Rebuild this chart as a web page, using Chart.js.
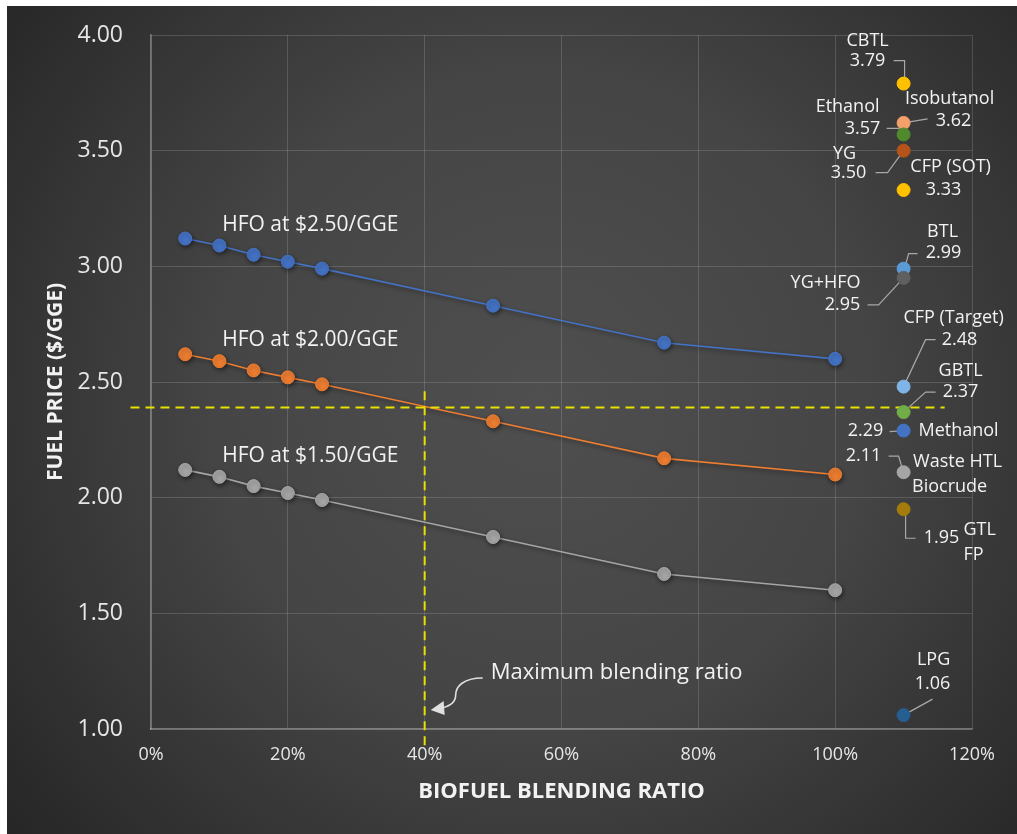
<!DOCTYPE html>
<html>
<head>
<meta charset="utf-8">
<title>Fuel price vs biofuel blending ratio</title>
<script src="https://cdn.jsdelivr.net/npm/chart.js@4.4.1/dist/chart.umd.min.js"></script>
<style>
    html, body { margin: 0; padding: 0; background: #ffffff; }
    #wrap { width: 1017px; height: 834px; }
</style>
</head>
<body>
<div id="wrap"><canvas id="priceChart" width="1017" height="834"></canvas></div>
<script>
// HFO blends: fuel price at each blending ratio
const blendRatio = [5, 10, 15, 20, 25, 50, 75, 100];
const hfo250 = [3.12, 3.09, 3.05, 3.02, 2.99, 2.83, 2.67, 2.60];
const hfo200 = [2.62, 2.59, 2.55, 2.52, 2.49, 2.33, 2.17, 2.10];
const hfo150 = [2.12, 2.09, 2.05, 2.02, 1.99, 1.83, 1.67, 1.60];
const hfoLabels = ['HFO at $2.50/GGE', 'HFO at $2.00/GGE', 'HFO at $1.50/GGE'];

// Neat biofuels, all plotted in one column right of 100%
const biofuelBlend = 110;
const biofuelNames = ['CBTL', 'Isobutanol', 'Ethanol', 'YG', 'CFP (SOT)', 'BTL', 'YG+HFO',
    'CFP (Target)', 'GBTL', 'Methanol', 'Waste HTL\nBiocrude', 'GTL\nFP', 'LPG'];
const biofuelPrices = [3.79, 3.62, 3.57, 3.50, 3.33, 2.99, 2.95, 2.48, 2.37, 2.29, 2.11, 1.95, 1.06];

// Reference lines
const targetPrice = 2.39;
const targetSpan = [-3, 116];
const maxBlend = 40;
const maxBlendSpan = [0.93, 2.47];

const xTickValues = [0, 20, 40, 60, 80, 100, 120];
const yTickValues = [1.0, 1.5, 2.0, 2.5, 3.0, 3.5, 4.0];

const biofuelColors = ['#ffc000', '#f4a06b', '#4f8a2c', '#b5531a', '#ffc000', '#5b9bd5', '#5f5f5f',
    '#7fb4e6', '#70ad47', '#4472c4', '#a5a5a5', '#a37c0c', '#255e91'];

const FONT = '"Open Sans", "Noto Sans", sans-serif';
const TEXT = '#f2f2f2';

// label offsets (px) from each biofuel point: name lines, value, leader polyline
const labelLayout = {
    'CBTL':        { name: [[-36, -43]], value: [-36, -23], leader: [[-10, -23], [1, -23], [1, 0]] },
    'Isobutanol':  { name: [[46, -24]], value: [50, -2], leader: [[0, 0], [24, -4]] },
    'Ethanol':     { name: [[-56, -28]], value: [-41, -6], leader: [[-17, -6], [-5, -6], [0, 0]] },
    'YG':          { name: [[-59, 3]], value: [-55, 22], leader: [[-28, 22], [-16, 22], [0, 0]] },
    'CFP (SOT)':   { name: [[47, -23]], value: [40, 0], leader: null },
    'BTL':         { name: [[39, -37]], value: [40, -16], leader: [[14, -15], [5, -15], [1, 0]] },
    'YG+HFO':      { name: [[-78, 5]], value: [-61, 27], leader: [[-36, 27], [-25, 27], [0, 0]] },
    'CFP (Target)': { name: [[50, -69]], value: [56, -47], leader: [[32, -47], [22, -47], [0, 0]] },
    'GBTL':        { name: [[57, -41]], value: [57, -20], leader: [[32, -20], [22, -20], [0, 0]] },
    'Methanol':    { name: [[55, 0]], value: [-38, 0], leader: [[-14, 1], [0, 0]] },
    'Waste HTL\nBiocrude': { name: [[54, -10], [46, 15]], value: [-40, -16], leader: [[-15, -16], [-5, -16], [0, 0]] },
    'GTL\nFP':     { name: [[76, 21], [70, 46]], value: [38, 29], leader: [[2, 0], [2, 29], [12, 29]] },
    'LPG':         { name: [[30, -55]], value: [29, -31], leader: [[29, -16], [0, 0]] }
};

function toPoints(xs, ys) {
    return xs.map((x, i) => ({ x: x, y: ys[i] }));
}

function lineDataset(label, values, color) {
    return {
        label: label,
        data: toPoints(blendRatio, values),
        showLine: true,
        borderColor: color,
        backgroundColor: color,
        borderWidth: 1.6,
        pointRadius: 6.5,
        pointBorderWidth: 1,
        pointBorderColor: color,
        pointBackgroundColor: color,
        order: 3
    };
}

function dashedDataset(points) {
    return {
        label: 'ref',
        data: points,
        showLine: true,
        borderColor: '#e8e000',
        borderWidth: 2,
        borderDash: [9, 6],
        pointRadius: 0,
        clip: false,
        order: 2
    };
}

const chartBackground = {
    id: 'chartBackground',
    beforeDraw(chart) {
        const ctx = chart.ctx;
        const w = chart.width, h = chart.height;
        ctx.save();
        ctx.fillStyle = '#ffffff';
        ctx.fillRect(0, 0, w, h);
        const g = ctx.createRadialGradient(540, 400, 0, 540, 400, 720);
        g.addColorStop(0, '#4f4f4f');
        g.addColorStop(0.45, '#454545');
        g.addColorStop(1, '#232323');
        ctx.fillStyle = g;
        ctx.fillRect(7, 6, w - 7, h - 6);
        ctx.restore();
    }
};

// soft drop shadow under lines and markers
const markerShadow = {
    id: 'markerShadow',
    beforeDatasetDraw(chart, args) {
        const ctx = chart.ctx;
        ctx.save();
        if (args.meta.dataset && args.meta.data.length && chart.data.datasets[args.index].pointRadius !== 0) {
            ctx.shadowColor = 'rgba(0,0,0,0.45)';
            ctx.shadowBlur = 4;
            ctx.shadowOffsetX = 1;
            ctx.shadowOffsetY = 2;
        }
    },
    afterDatasetDraw(chart) {
        chart.ctx.restore();
    }
};

const annotations = {
    id: 'annotations',
    beforeDatasetsDraw(chart) {
        // leader lines sit beneath the markers
        const ctx = chart.ctx;
        const xs = chart.scales.x, ys = chart.scales.y;
        ctx.save();
        ctx.strokeStyle = '#a8a8a8';
        ctx.lineWidth = 1.2;
        biofuelNames.forEach((name, i) => {
            const lay = labelLayout[name];
            if (!lay || !lay.leader) return;
            const px = xs.getPixelForValue(biofuelBlend);
            const py = ys.getPixelForValue(biofuelPrices[i]);
            ctx.beginPath();
            lay.leader.forEach((p, k) => {
                if (k === 0) ctx.moveTo(px + p[0], py + p[1]);
                else ctx.lineTo(px + p[0], py + p[1]);
            });
            ctx.stroke();
        });
        ctx.restore();
    },
    afterDatasetsDraw(chart) {
        const ctx = chart.ctx;
        const xs = chart.scales.x, ys = chart.scales.y;
        ctx.save();
        ctx.fillStyle = TEXT;
        ctx.textBaseline = 'middle';

        // series names above the HFO lines
        ctx.font = '21px ' + FONT;
        ctx.textAlign = 'left';
        [hfo250, hfo200, hfo150].forEach((vals, i) => {
            const x0 = xs.getPixelForValue(blendRatio[0]);
            const y0 = ys.getPixelForValue(vals[0]);
            ctx.fillText(hfoLabels[i], x0 + 37, y0 - 14);
        });

        // biofuel names and prices
        ctx.font = '18px ' + FONT;
        ctx.textAlign = 'center';
        biofuelNames.forEach((name, i) => {
            const lay = labelLayout[name];
            const px = xs.getPixelForValue(biofuelBlend);
            const py = ys.getPixelForValue(biofuelPrices[i]);
            name.split('\n').forEach((line, k) => {
                const off = lay.name[k];
                ctx.fillText(line, px + off[0], py + off[1]);
            });
            ctx.fillText(biofuelPrices[i].toFixed(2), px + lay.value[0], py + lay.value[1]);
        });

        // "Maximum blending ratio" callout with curved arrow
        const bx = xs.getPixelForValue(maxBlend);
        const by = ys.getPixelForValue(yTickValues[0]);
        ctx.font = '22px ' + FONT;
        ctx.textAlign = 'left';
        ctx.fillText('Maximum blending ratio', bx + 66, by - 56);

        ctx.strokeStyle = '#e0e0e0';
        ctx.fillStyle = '#e0e0e0';
        ctx.lineWidth = 1.6;
        ctx.beginPath();
        ctx.moveTo(bx + 58, by - 51);
        ctx.bezierCurveTo(bx + 38, by - 51, bx + 31, by - 42, bx + 31, by - 34);
        ctx.bezierCurveTo(bx + 31, by - 27, bx + 26, by - 23, bx + 17, by - 21);
        ctx.stroke();
        ctx.beginPath();
        ctx.moveTo(bx + 6, by - 19);
        ctx.lineTo(bx + 19, by - 28);
        ctx.lineTo(bx + 20, by - 14);
        ctx.closePath();
        ctx.fill();
        ctx.restore();
    }
};

const ctx = document.getElementById('priceChart').getContext('2d');
const priceChart = new Chart(ctx, {
    type: 'scatter',
    data: {
        datasets: [
            {
                label: 'Biofuels',
                data: biofuelPrices.map(p => ({ x: biofuelBlend, y: p })),
                pointRadius: 6.5,
                pointBorderWidth: 1,
                pointBackgroundColor: biofuelColors,
                pointBorderColor: biofuelColors,
                order: 1
            },
            dashedDataset([{ x: targetSpan[0], y: targetPrice }, { x: targetSpan[1], y: targetPrice }]),
            dashedDataset([{ x: maxBlend, y: maxBlendSpan[0] }, { x: maxBlend, y: maxBlendSpan[1] }]),
            lineDataset(hfoLabels[0], hfo250, '#4472c4'),
            lineDataset(hfoLabels[1], hfo200, '#ed7d31'),
            lineDataset(hfoLabels[2], hfo150, '#a5a5a5')
        ]
    },
    options: {
        responsive: false,
        animation: false,
        devicePixelRatio: 1,
        layout: { autoPadding: false, padding: { left: 7, top: 35, right: 45, bottom: 0 } },
        plugins: {
            legend: { display: false },
            tooltip: { enabled: false }
        },
        scales: {
            x: {
                type: 'linear',
                min: 0,
                max: 120,
                afterBuildTicks: scale => { scale.ticks = xTickValues.map(v => ({ value: v })); },
                afterFit: scale => { scale.height = 105; },
                grid: { color: 'rgba(255,255,255,0.15)', drawTicks: false },
                border: { color: 'rgba(255,255,255,0.32)', width: 1.5 },
                ticks: {
                    color: '#e6e6e6',
                    padding: 15,
                    font: { family: FONT, size: 18 },
                    callback: v => v + '%'
                },
                title: {
                    display: true,
                    text: 'BIOFUEL BLENDING RATIO',
                    color: TEXT,
                    font: { family: FONT, size: 22, weight: 'bold' },
                    padding: { top: 0, bottom: 29 }
                }
            },
            y: {
                type: 'linear',
                min: 1,
                max: 4,
                afterBuildTicks: scale => { scale.ticks = yTickValues.map(v => ({ value: v })); },
                afterFit: scale => {
                    scale.width = 144;
                    // tick padding should not push the plot area down
                    scale.paddingTop = 0;
                    scale.paddingBottom = 0;
                },
                grid: { color: 'rgba(255,255,255,0.15)', drawTicks: false },
                border: { color: 'rgba(255,255,255,0.32)', width: 1.5 },
                ticks: {
                    color: '#e6e6e6',
                    padding: 28,
                    font: { family: FONT, size: 23 },
                    callback: v => v.toFixed(2)
                },
                title: {
                    display: true,
                    text: 'FUEL PRICE ($/GGE)',
                    color: TEXT,
                    font: { family: FONT, size: 21, weight: 'bold' },
                    padding: { top: 36, bottom: 0 }
                }
            }
        }
    },
    plugins: [chartBackground, markerShadow, annotations]
});
</script>
</body>
</html>
